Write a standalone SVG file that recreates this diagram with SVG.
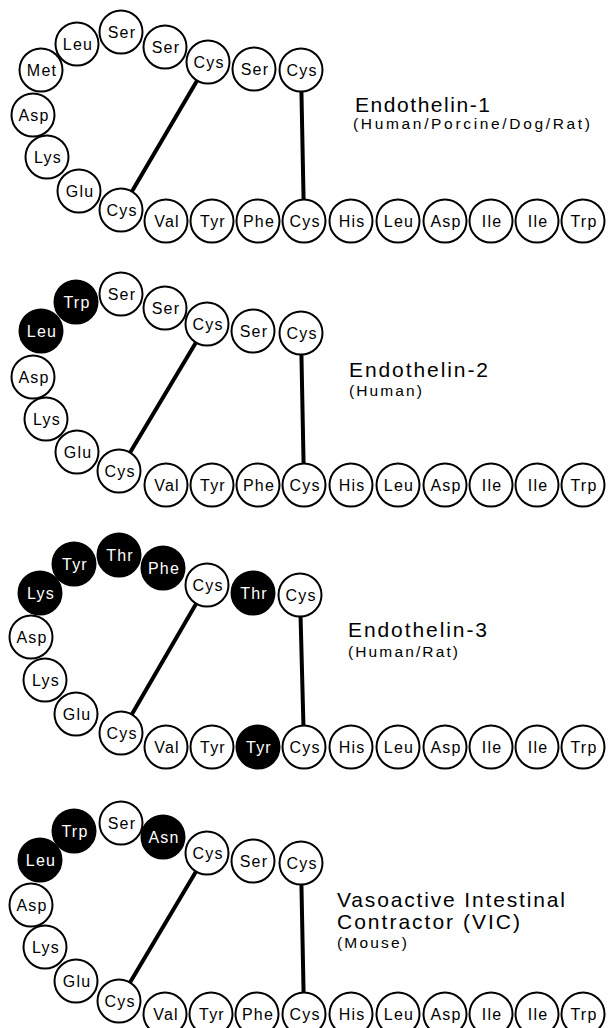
<svg xmlns="http://www.w3.org/2000/svg" width="608" height="1028" viewBox="0 0 608 1028">
<style>
.res circle{fill:#fff;stroke:#000;stroke-width:2}
.res text{font-family:"Liberation Sans",Arial,Helvetica,sans-serif;font-size:16px;letter-spacing:1.2px;text-anchor:middle;fill:#000}
.blk circle{fill:#000}
.blk text{fill:#fff}
.ss{stroke:#000;stroke-width:4;stroke-linecap:round;fill:none}
.title{font-family:"Liberation Sans",Arial,Helvetica,sans-serif;font-size:21px;fill:#000}
.sub{font-family:"Liberation Sans",Arial,Helvetica,sans-serif;font-size:15.5px;fill:#000}
</style>
<rect width="608" height="1028" fill="#fff"/>
<g id="connectors">
<line class="ss" x1="301" y1="70" x2="304" y2="221"/>
<line class="ss" x1="208" y1="62" x2="121" y2="210"/>
<line class="ss" x1="301" y1="333" x2="304" y2="485"/>
<line class="ss" x1="207" y1="324" x2="119" y2="471"/>
<line class="ss" x1="300" y1="595" x2="304" y2="747"/>
<line class="ss" x1="207" y1="585" x2="121" y2="733"/>
<line class="ss" x1="301" y1="863" x2="304" y2="1014"/>
<line class="ss" x1="207" y1="853" x2="119" y2="1001"/>
</g>
<!-- Panel 1 -->
<g id="p1">
<g id="p1-cys1" class="res"><circle cx="301" cy="70" r="21.5"/><text x="302" y="75.5">Cys</text></g>
<g id="p1-ser2" class="res"><circle cx="254" cy="69" r="21.5"/><text x="255" y="74.5">Ser</text></g>
<g id="p1-cys3" class="res"><circle cx="208" cy="62" r="21.5"/><text x="209" y="67.5">Cys</text></g>
<g id="p1-ser4" class="res"><circle cx="165" cy="47" r="21.5"/><text x="166" y="52.5">Ser</text></g>
<g id="p1-ser5" class="res"><circle cx="121" cy="32" r="21.5"/><text x="122" y="37.5">Ser</text></g>
<g id="p1-leu6" class="res"><circle cx="77" cy="44" r="21.5"/><text x="78" y="49.5">Leu</text></g>
<g id="p1-met7" class="res"><circle cx="41" cy="70" r="21.5"/><text x="42" y="75.5">Met</text></g>
<g id="p1-asp8" class="res"><circle cx="33" cy="115" r="21.5"/><text x="34" y="120.5">Asp</text></g>
<g id="p1-lys9" class="res"><circle cx="47" cy="157" r="21.5"/><text x="48" y="162.5">Lys</text></g>
<g id="p1-glu10" class="res"><circle cx="79" cy="191" r="21.5"/><text x="80" y="196.5">Glu</text></g>
<g id="p1-cys11" class="res"><circle cx="121" cy="210" r="21.5"/><text x="122" y="215.5">Cys</text></g>
<g id="p1-val12" class="res"><circle cx="166" cy="221" r="21.5"/><text x="167" y="226.5">Val</text></g>
<g id="p1-tyr13" class="res"><circle cx="212" cy="221" r="21.5"/><text x="213" y="226.5">Tyr</text></g>
<g id="p1-phe14" class="res"><circle cx="258" cy="221" r="21.5"/><text x="259" y="226.5">Phe</text></g>
<g id="p1-cys15" class="res"><circle cx="304" cy="221" r="21.5"/><text x="305" y="226.5">Cys</text></g>
<g id="p1-his16" class="res"><circle cx="351" cy="221" r="21.5"/><text x="352" y="226.5">His</text></g>
<g id="p1-leu17" class="res"><circle cx="398" cy="221" r="21.5"/><text x="399" y="226.5">Leu</text></g>
<g id="p1-asp18" class="res"><circle cx="445" cy="221" r="21.5"/><text x="446" y="226.5">Asp</text></g>
<g id="p1-ile19" class="res"><circle cx="491" cy="221" r="21.5"/><text x="492" y="226.5">Ile</text></g>
<g id="p1-ile20" class="res"><circle cx="537" cy="221" r="21.5"/><text x="538" y="226.5">Ile</text></g>
<g id="p1-trp21" class="res"><circle cx="583" cy="221" r="21.5"/><text x="584" y="226.5">Trp</text></g>
<g id="p1-label"><text class="title" x="355" y="112" textLength="135" lengthAdjust="spacing">Endothelin-1</text><text class="sub" x="353" y="129" textLength="237" lengthAdjust="spacing">(Human/Porcine/Dog/Rat)</text></g>
</g>
<!-- Panel 2 -->
<g id="p2">
<g id="p2-cys1" class="res"><circle cx="301" cy="333" r="21.5"/><text x="302" y="338.5">Cys</text></g>
<g id="p2-ser2" class="res"><circle cx="253" cy="331" r="21.5"/><text x="254" y="336.5">Ser</text></g>
<g id="p2-cys3" class="res"><circle cx="207" cy="324" r="21.5"/><text x="208" y="329.5">Cys</text></g>
<g id="p2-ser4" class="res"><circle cx="165" cy="308" r="21.5"/><text x="166" y="313.5">Ser</text></g>
<g id="p2-ser5" class="res"><circle cx="121" cy="294" r="21.5"/><text x="122" y="299.5">Ser</text></g>
<g id="p2-trp6" class="res blk"><circle cx="76" cy="302" r="21.5"/><text x="77" y="307.5">Trp</text></g>
<g id="p2-leu7" class="res blk"><circle cx="41" cy="331" r="21.5"/><text x="42" y="336.5">Leu</text></g>
<g id="p2-asp8" class="res"><circle cx="33" cy="377" r="21.5"/><text x="34" y="382.5">Asp</text></g>
<g id="p2-lys9" class="res"><circle cx="46" cy="419" r="21.5"/><text x="47" y="424.5">Lys</text></g>
<g id="p2-glu10" class="res"><circle cx="77" cy="452" r="21.5"/><text x="78" y="457.5">Glu</text></g>
<g id="p2-cys11" class="res"><circle cx="119" cy="471" r="21.5"/><text x="120" y="476.5">Cys</text></g>
<g id="p2-val12" class="res"><circle cx="166" cy="485" r="21.5"/><text x="167" y="490.5">Val</text></g>
<g id="p2-tyr13" class="res"><circle cx="212" cy="485" r="21.5"/><text x="213" y="490.5">Tyr</text></g>
<g id="p2-phe14" class="res"><circle cx="258" cy="485" r="21.5"/><text x="259" y="490.5">Phe</text></g>
<g id="p2-cys15" class="res"><circle cx="304" cy="485" r="21.5"/><text x="305" y="490.5">Cys</text></g>
<g id="p2-his16" class="res"><circle cx="351" cy="485" r="21.5"/><text x="352" y="490.5">His</text></g>
<g id="p2-leu17" class="res"><circle cx="398" cy="485" r="21.5"/><text x="399" y="490.5">Leu</text></g>
<g id="p2-asp18" class="res"><circle cx="445" cy="485" r="21.5"/><text x="446" y="490.5">Asp</text></g>
<g id="p2-ile19" class="res"><circle cx="491" cy="485" r="21.5"/><text x="492" y="490.5">Ile</text></g>
<g id="p2-ile20" class="res"><circle cx="537" cy="485" r="21.5"/><text x="538" y="490.5">Ile</text></g>
<g id="p2-trp21" class="res"><circle cx="583" cy="485" r="21.5"/><text x="584" y="490.5">Trp</text></g>
<g id="p2-label"><text class="title" x="349" y="377" textLength="139" lengthAdjust="spacing">Endothelin-2</text><text class="sub" x="349" y="396" textLength="73" lengthAdjust="spacing">(Human)</text></g>
</g>
<!-- Panel 3 -->
<g id="p3">
<g id="p3-cys1" class="res"><circle cx="300" cy="595" r="21.5"/><text x="301" y="600.5">Cys</text></g>
<g id="p3-thr2" class="res blk"><circle cx="253" cy="593" r="21.5"/><text x="254" y="598.5">Thr</text></g>
<g id="p3-cys3" class="res"><circle cx="207" cy="585" r="21.5"/><text x="208" y="590.5">Cys</text></g>
<g id="p3-phe4" class="res blk"><circle cx="163" cy="568" r="21.5"/><text x="164" y="573.5">Phe</text></g>
<g id="p3-thr5" class="res blk"><circle cx="119" cy="555" r="21.5"/><text x="120" y="560.5">Thr</text></g>
<g id="p3-tyr6" class="res blk"><circle cx="74" cy="564" r="21.5"/><text x="75" y="569.5">Tyr</text></g>
<g id="p3-lys7" class="res blk"><circle cx="40" cy="593" r="21.5"/><text x="41" y="598.5">Lys</text></g>
<g id="p3-asp8" class="res"><circle cx="31" cy="637" r="21.5"/><text x="32" y="642.5">Asp</text></g>
<g id="p3-lys9" class="res"><circle cx="45" cy="680" r="21.5"/><text x="46" y="685.5">Lys</text></g>
<g id="p3-glu10" class="res"><circle cx="76" cy="714" r="21.5"/><text x="77" y="719.5">Glu</text></g>
<g id="p3-cys11" class="res"><circle cx="121" cy="733" r="21.5"/><text x="122" y="738.5">Cys</text></g>
<g id="p3-val12" class="res"><circle cx="166" cy="747" r="21.5"/><text x="167" y="752.5">Val</text></g>
<g id="p3-tyr13" class="res"><circle cx="212" cy="747" r="21.5"/><text x="213" y="752.5">Tyr</text></g>
<g id="p3-tyr14" class="res blk"><circle cx="258" cy="747" r="21.5"/><text x="259" y="752.5">Tyr</text></g>
<g id="p3-cys15" class="res"><circle cx="304" cy="747" r="21.5"/><text x="305" y="752.5">Cys</text></g>
<g id="p3-his16" class="res"><circle cx="351" cy="747" r="21.5"/><text x="352" y="752.5">His</text></g>
<g id="p3-leu17" class="res"><circle cx="398" cy="747" r="21.5"/><text x="399" y="752.5">Leu</text></g>
<g id="p3-asp18" class="res"><circle cx="445" cy="747" r="21.5"/><text x="446" y="752.5">Asp</text></g>
<g id="p3-ile19" class="res"><circle cx="491" cy="747" r="21.5"/><text x="492" y="752.5">Ile</text></g>
<g id="p3-ile20" class="res"><circle cx="537" cy="747" r="21.5"/><text x="538" y="752.5">Ile</text></g>
<g id="p3-trp21" class="res"><circle cx="583" cy="747" r="21.5"/><text x="584" y="752.5">Trp</text></g>
<g id="p3-label"><text class="title" x="348" y="637" textLength="139" lengthAdjust="spacing">Endothelin-3</text><text class="sub" x="348" y="657" textLength="110" lengthAdjust="spacing">(Human/Rat)</text></g>
</g>
<!-- Panel 4 -->
<g id="p4">
<g id="p4-cys1" class="res"><circle cx="301" cy="863" r="21.5"/><text x="302" y="868.5">Cys</text></g>
<g id="p4-ser2" class="res"><circle cx="253" cy="861" r="21.5"/><text x="254" y="866.5">Ser</text></g>
<g id="p4-cys3" class="res"><circle cx="207" cy="853" r="21.5"/><text x="208" y="858.5">Cys</text></g>
<g id="p4-asn4" class="res blk"><circle cx="163" cy="837" r="21.5"/><text x="164" y="842.5">Asn</text></g>
<g id="p4-ser5" class="res"><circle cx="121" cy="823" r="21.5"/><text x="122" y="828.5">Ser</text></g>
<g id="p4-trp6" class="res blk"><circle cx="74" cy="831" r="21.5"/><text x="75" y="836.5">Trp</text></g>
<g id="p4-leu7" class="res blk"><circle cx="40" cy="860" r="21.5"/><text x="41" y="865.5">Leu</text></g>
<g id="p4-asp8" class="res"><circle cx="31" cy="905" r="21.5"/><text x="32" y="910.5">Asp</text></g>
<g id="p4-lys9" class="res"><circle cx="45" cy="947" r="21.5"/><text x="46" y="952.5">Lys</text></g>
<g id="p4-glu10" class="res"><circle cx="76" cy="981" r="21.5"/><text x="77" y="986.5">Glu</text></g>
<g id="p4-cys11" class="res"><circle cx="119" cy="1001" r="21.5"/><text x="120" y="1006.5">Cys</text></g>
<g id="p4-val12" class="res"><circle cx="165" cy="1014" r="21.5"/><text x="166" y="1019.5">Val</text></g>
<g id="p4-tyr13" class="res"><circle cx="211" cy="1014" r="21.5"/><text x="212" y="1019.5">Tyr</text></g>
<g id="p4-phe14" class="res"><circle cx="257" cy="1014" r="21.5"/><text x="258" y="1019.5">Phe</text></g>
<g id="p4-cys15" class="res"><circle cx="304" cy="1014" r="21.5"/><text x="305" y="1019.5">Cys</text></g>
<g id="p4-his16" class="res"><circle cx="351" cy="1014" r="21.5"/><text x="352" y="1019.5">His</text></g>
<g id="p4-leu17" class="res"><circle cx="398" cy="1014" r="21.5"/><text x="399" y="1019.5">Leu</text></g>
<g id="p4-asp18" class="res"><circle cx="445" cy="1014" r="21.5"/><text x="446" y="1019.5">Asp</text></g>
<g id="p4-ile19" class="res"><circle cx="491" cy="1014" r="21.5"/><text x="492" y="1019.5">Ile</text></g>
<g id="p4-ile20" class="res"><circle cx="537" cy="1014" r="21.5"/><text x="538" y="1019.5">Ile</text></g>
<g id="p4-trp21" class="res"><circle cx="583" cy="1014" r="21.5"/><text x="584" y="1019.5">Trp</text></g>
<g id="p4-label"><text class="title" x="337" y="907" textLength="228" lengthAdjust="spacing">Vasoactive Intestinal</text><text class="title" x="337" y="929" textLength="183" lengthAdjust="spacing">Contractor (VIC)</text><text class="sub" x="337" y="948" textLength="70" lengthAdjust="spacing">(Mouse)</text></g>
</g>
</svg>
